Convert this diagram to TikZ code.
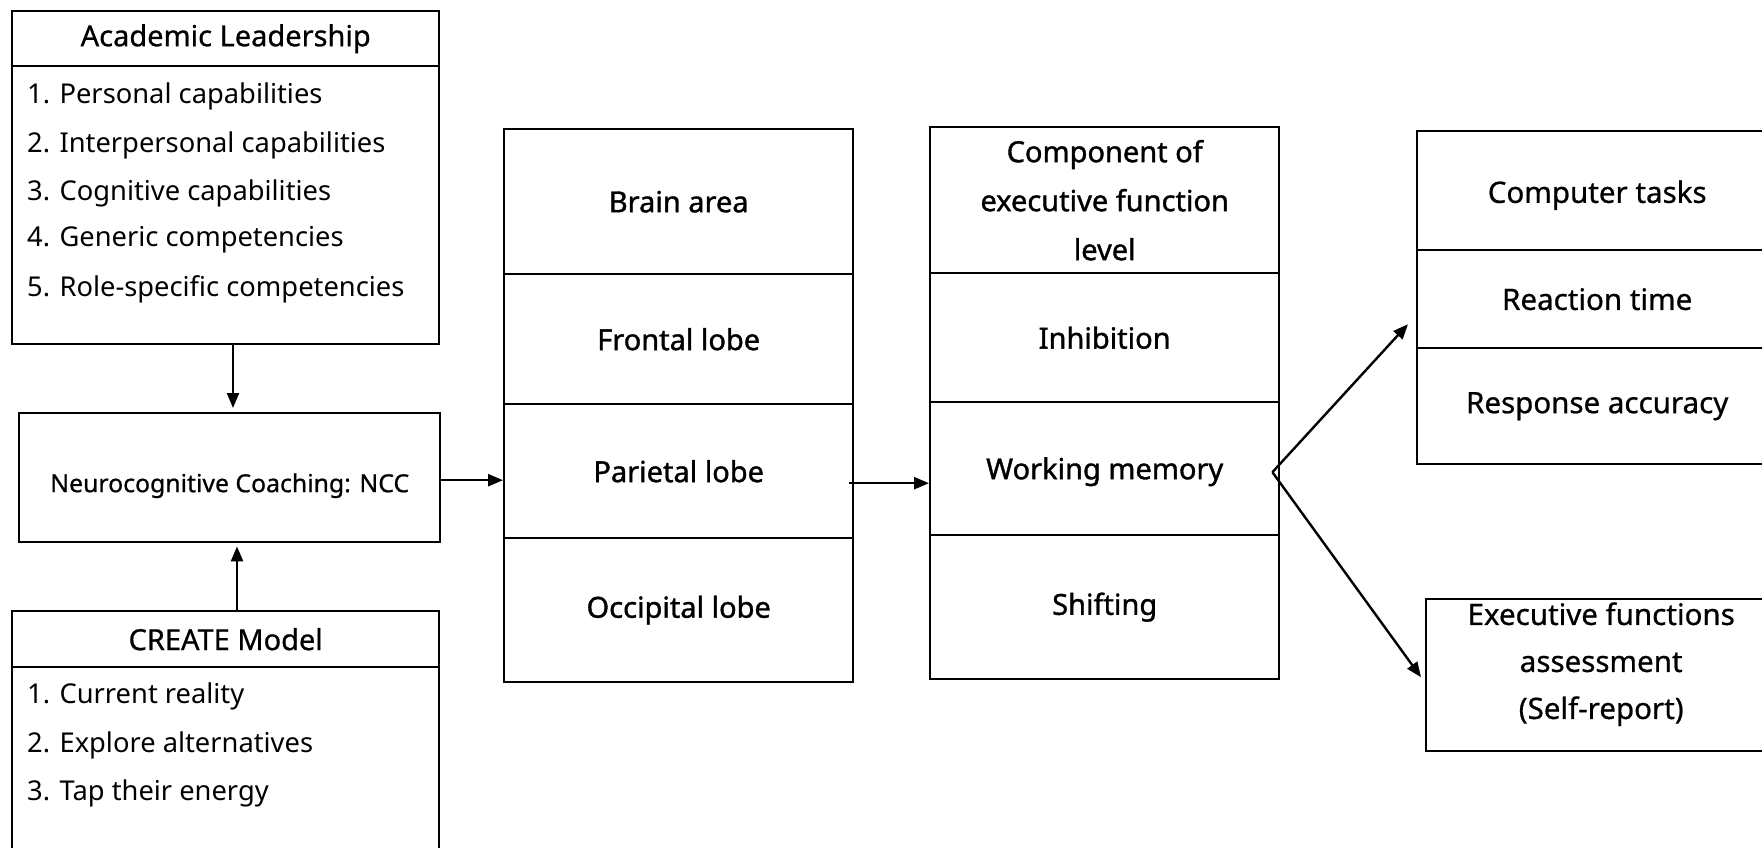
\documentclass[tikz,border=0pt]{standalone}
\usepackage{fontspec}
\setmainfont{Noto Sans}
\newfontface\medfont{Noto Sans}[FakeBold=1.2]
\newfontface\semifont{Noto Sans}[FakeBold=0.7]
\usetikzlibrary{arrows.meta,calc}
\begin{document}
\begin{tikzpicture}[x=1pt,y=-1pt,
  box/.style={draw, line width=2.4pt, inner sep=0pt, anchor=north west, align=center},
  cell/.style={box, minimum width=349pt, font=\medfont\fontsize{29}{49}\selectfont},
  rcell/.style={box, font=\semifont\fontsize{29.5}{47}\selectfont},
  rtext/.style={inner sep=0pt, align=center, font=\semifont\fontsize{29.5}{47}\selectfont},
  ctext/.style={inner sep=0pt, align=center, font=\medfont\fontsize{29}{49}\selectfont},
  head/.style={box, minimum width=427pt, font=\semifont\fontsize{29}{34}\selectfont},
  item/.style={anchor=west, inner sep=0pt, font=\fontsize{27.3}{32}\selectfont},
  arr/.style={line width=2.4pt, -{Triangle[length=15pt,width=12pt]}}]
\path[fill=white] (0,0) rectangle (1762,848);
\useasboundingbox (0,0) rectangle (1762,848);
\clip (0,0) rectangle (1762,848);

% Academic leadership list
\node[box, minimum width=427pt, minimum height=333pt] (al) at (11,10) {};
\node[head, minimum height=55pt] (alhead) at (11,10) {Academic Leadership};
\node[item] (al1) at (27,96)  {1. Personal capabilities};
\node[item] (al2) at (27,145) {2. Interpersonal capabilities};
\node[item] (al3) at (27,193) {3. Cognitive capabilities};
\node[item] (al4) at (27,240) {4. Generic competencies};
\node[item] (al5) at (27,289) {5. Role-specific competencies};

% Coaching box
\node[box, minimum width=421pt, minimum height=129pt] (ncc) at (18,412) {};
\node[inner sep=0pt, font=\semifont\fontsize{24.8}{30}\selectfont] (ncctext)
     at ($(ncc.center)+(0,8)$) {Neurocognitive Coaching: NCC};

% CREATE model list
\node[box, minimum width=427pt, minimum height=300pt] (create) at (11,610) {};
\node[head, minimum height=56pt] (crhead) at (11,610) {CREATE Model};
\node[item] (cr1) at (27,696) {1. Current reality};
\node[item] (cr2) at (27,745) {2. Explore alternatives};
\node[item] (cr3) at (27,793) {3. Tap their energy};

% Brain areas
\node[cell, minimum height=145pt] (brain)     at (503,128) {Brain area};
\node[cell, minimum height=130pt] (frontal)   at (503,273) {Frontal lobe};
\node[cell, minimum height=134pt] (parietal)  at (503,403) {Parietal lobe};
\node[cell, minimum height=144pt] (occipital) at (503,537) {Occipital lobe};

% Executive function components
\node[cell, minimum height=146pt] (comp)  at (929,126) {Component of\\executive function\\level};
\node[cell, minimum height=129pt] (inhib) at (929,272) {Inhibition};
\node[cell, minimum height=133pt] (wm)    at (929,401) {};
\node[ctext] (wmtext) at ($(wm.center)+(0,3)$) {Working memory};
\node[cell, minimum height=144pt] (shift) at (929,534) {Shifting};

% Measures
\node[rcell, minimum width=360pt, minimum height=119pt] (ctask) at (1416,130) {};
\node[rtext] (ctasktext) at ($(ctask.center)+(0,4.5)$) {Computer tasks};
\node[rcell, minimum width=360pt, minimum height=98pt]  (rtime) at (1416,249) {Reaction time};
\node[rcell, minimum width=360pt, minimum height=116pt] (racc)  at (1416,347) {Response accuracy};
\node[rcell, minimum width=350pt, minimum height=152pt] (efa)   at (1425,598) {};
\node[rtext] (efatext) at ($(efa.center)+(0,-11)$) {Executive functions\\assessment\\(Self-report)};

% Connectors
\coordinate (xd) at (233,0);
\coordinate (xu) at (237,0);
\draw[arr, shorten >=4pt] (al.south -| xd) -- (ncc.north -| xd);
\draw[arr, shorten >=3pt] (create.north -| xu) -- (ncc.south -| xu);
\coordinate (a1) at ($(ncc.east)+(0,2.5)$);
\draw[arr] (a1) -- (a1 -| parietal.west);
\coordinate (a2) at ($(parietal.east)+(-5,12)$);
\draw[arr] (a2) -- (a2 -| wm.west);
\coordinate (v)  at ($(wm.east)+(-8,3.5)$);
\coordinate (t1) at ($(rtime.west)+(-8,25)$);
\coordinate (t2) at ($(efa.west)+(-4,2)$);
\draw[arr] (v) -- (t1);
\draw[arr] (v) -- (t2);
\end{tikzpicture}
\end{document}
